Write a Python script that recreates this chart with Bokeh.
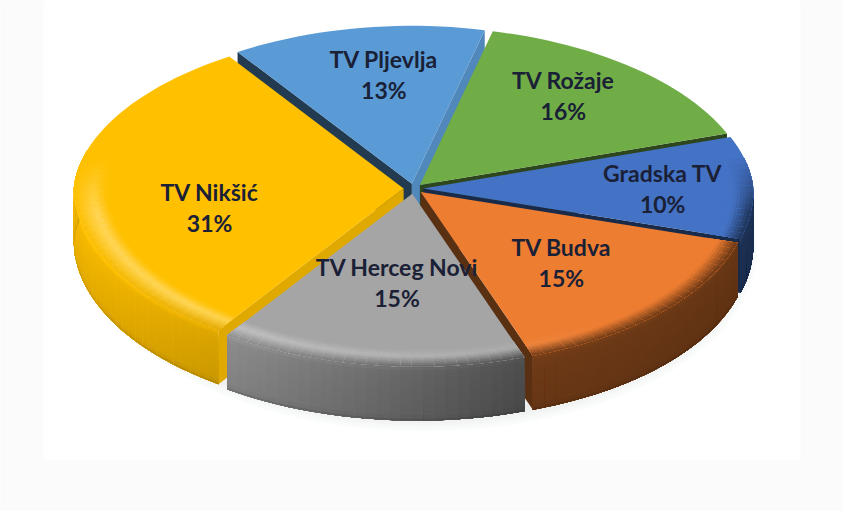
import numpy as np
from bokeh.plotting import figure
from bokeh.models import ColumnDataSource, Range1d
from bokeh.core.properties import value
from bokeh.embed import file_html
from bokeh.resources import INLINE

# ---- data (clockwise, starting at the TV Rožaje slice) ----
names = ["TV Rožaje", "Gradska TV", "TV Budva", "TV Herceg Novi", "TV Nikšić", "TV Pljevlja"]
shares = [16, 10, 15, 15, 31, 13]
colors = ["#70ad47", "#4472c4", "#ed7d31", "#a5a5a5", "#ffc000", "#5b9bd5"]

# ---- layout ----
CX, CY = 413.0, 188.0
A, B_BACK, B_FRONT = 330.0, 158.0, 173.0
DEPTH = 54.0
EXPLODE = 0.03
START = 13.4
label_frac = [(.454, -.588), (.755, 0.0), (.448, .427), (-.05, .545), (-.618, .11), (-.09, -.72)]

def rgb(h):
    return np.array([int(h[i:i + 2], 16) for i in (1, 3, 5)], float)

def hexc(c):
    c = np.clip(np.round(c), 0, 255).astype(int)
    return "#%02x%02x%02x" % tuple(c)

def pt(t, s=1.0):
    """Perspective-ish ellipse: narrower at the back, leaning right at the front."""
    r = np.radians(t)
    c = np.cos(r)
    b = B_BACK if c >= 0 else B_FRONT
    a = A - 16 * max(c, 0)
    return s * (a * np.sin(r) + 5 * max(0, -c)), -b * s * c

def side_factor(x):
    return float(np.interp(x, [75, 228, 525, 750], [.95, .83, .46, .42]))

xs, ys, fills = [], [], []
def add(px, py, c):
    xs.append(list(px)); ys.append(list(py)); fills.append(c)

# soft shadow under the pie
for k in range(7):
    ang = np.radians(np.arange(0, 361, 4))
    grow = 1 - k * .006
    add(CX + 10 + (A + 4) * grow * np.sin(ang), CY + DEPTH + 6 + (B_FRONT + 10 - k * 2) * np.cos(ang),
        hexc(np.array([251., 252., 252.]) - k * 2.2))

bounds = START + np.cumsum([0] + shares) * 3.6
slices = []
for i in range(len(names)):
    t0, t1 = bounds[i], bounds[i + 1]
    mid = (t0 + t1) / 2
    ox, oy = pt(mid, EXPLODE)
    slices.append((oy, i, t0, t1, CX + ox, CY + oy))

vstops = np.linspace(0, .97, 15)
vfac = np.interp(vstops, [0, .08, .5, .88, .97], [1.08, 1.02, .98, .95, .82])
rings = np.arange(.90, .995, .01)

for _, i, t0, t1, ax, ay in sorted(slices):
    base = rgb(colors[i])
    # cut faces: only those turned towards the viewer can be seen
    for t, sign in ((t0, -90), (t1, 90)):
        nr = np.radians(t + sign)
        if np.cos(nr) >= 0:
            continue
        nx = np.sin(nr)
        f = .38 + .5 * np.clip((nx - .3) / .5, 0, 1)
        ex, ey = pt(t)
        add([ax, ax + ex, ax + ex, ax], [ay, ay + ey, ay + ey + DEPTH, ay + DEPTH], hexc(base * f))
    ts = np.linspace(t0, t1, max(int((t1 - t0) / 2.0), 2) + 1)
    step = ts[1] - ts[0]
    # outer wall: each strip overlaps the next one, so no seams show
    for a, b in zip(ts[:-1], ts[1:]):
        if np.cos(np.radians((a + b) / 2)) > .17:
            continue
        bb = min(b + step, t1)
        xa, ya = pt(a); xb, yb = pt(bb)
        xm = pt((a + b) / 2)[0]
        f = side_factor(ax + xm)
        for v0, vf in zip(vstops, vfac):
            add([ax + xa, ax + xb, ax + xb, ax + xa],
                [ay + ya + v0 * DEPTH, ay + yb + v0 * DEPTH, ay + yb + DEPTH, ay + ya + DEPTH],
                hexc(base * f * vf))
    # flat top
    tx, ty = zip(*[pt(t) for t in ts])
    add([ax] + [ax + v for v in tx], [ay] + [ay + v for v in ty], colors[i])
    # bevelled rim
    for a, b in zip(ts[:-1], ts[1:]):
        m = (a + b) / 2
        c = np.cos(np.radians(m))
        w = float(np.clip((.2 - c) / .35, 0, 1))
        if w <= 0:
            continue
        bb = min(b + step, t1)
        mx = ax + pt(m)[0]
        f = side_factor(mx)
        lit = float(np.clip((620 - mx) / 450, 0, 1)) * .35
        hi = base + (255 - base) * lit
        for s0 in rings:
            target = np.interp(s0 + .005, [.90, .94, 1.0], [0, 1, 2])
            if target <= 1:
                col = base + (hi - base) * target
            else:
                col = hi + (base * f * 1.05 - hi) * (target - 1)
            col = base + (col - base) * w
            p0, p1, p2, p3 = pt(a, s0), pt(bb, s0), pt(bb), pt(a)
            add([ax + p0[0], ax + p1[0], ax + p2[0], ax + p3[0]],
                [ay + p0[1], ay + p1[1], ay + p2[1], ay + p3[1]], hexc(col))

p = figure(width=843, height=511, output_backend="svg", toolbar_location=None,
           x_range=Range1d(0, 843), y_range=Range1d(511, 0), min_border=0,
           x_axis_location=None, y_axis_location=None)
p.xgrid.visible = False
p.ygrid.visible = False
p.outline_line_color = None
p.background_fill_color = "#fbfbfb"
p.border_fill_color = "#fbfbfb"
p.quad(left=[43], right=[800], top=[0], bottom=[460], fill_color="#ffffff", line_color=None)

src = ColumnDataSource(dict(xs=xs, ys=ys, fill=fills))
p.patches("xs", "ys", source=src, fill_color="fill", line_color=None)

lx, ly1, ly2, t1s, t2s = [], [], [], [], []
for n, v, (fx, fy) in zip(names, shares, label_frac):
    x = CX + fx * A
    y = CY + fy * (B_FRONT if fy > 0 else B_BACK)
    lx.append(x); ly1.append(y - 15.5); ly2.append(y + 15.5)
    t1s.append(n); t2s.append(f"{v}%")
for yy, tt in ((ly1, t1s), (ly2, t2s)):
    p.text(x=lx, y=yy, text=tt, text_font=value("Lato"), text_font_size="23px",
           text_font_style="bold", text_color="#1a2036",
           text_align="center", text_baseline="middle")

open("out.html", "w").write(file_html(p, INLINE))
